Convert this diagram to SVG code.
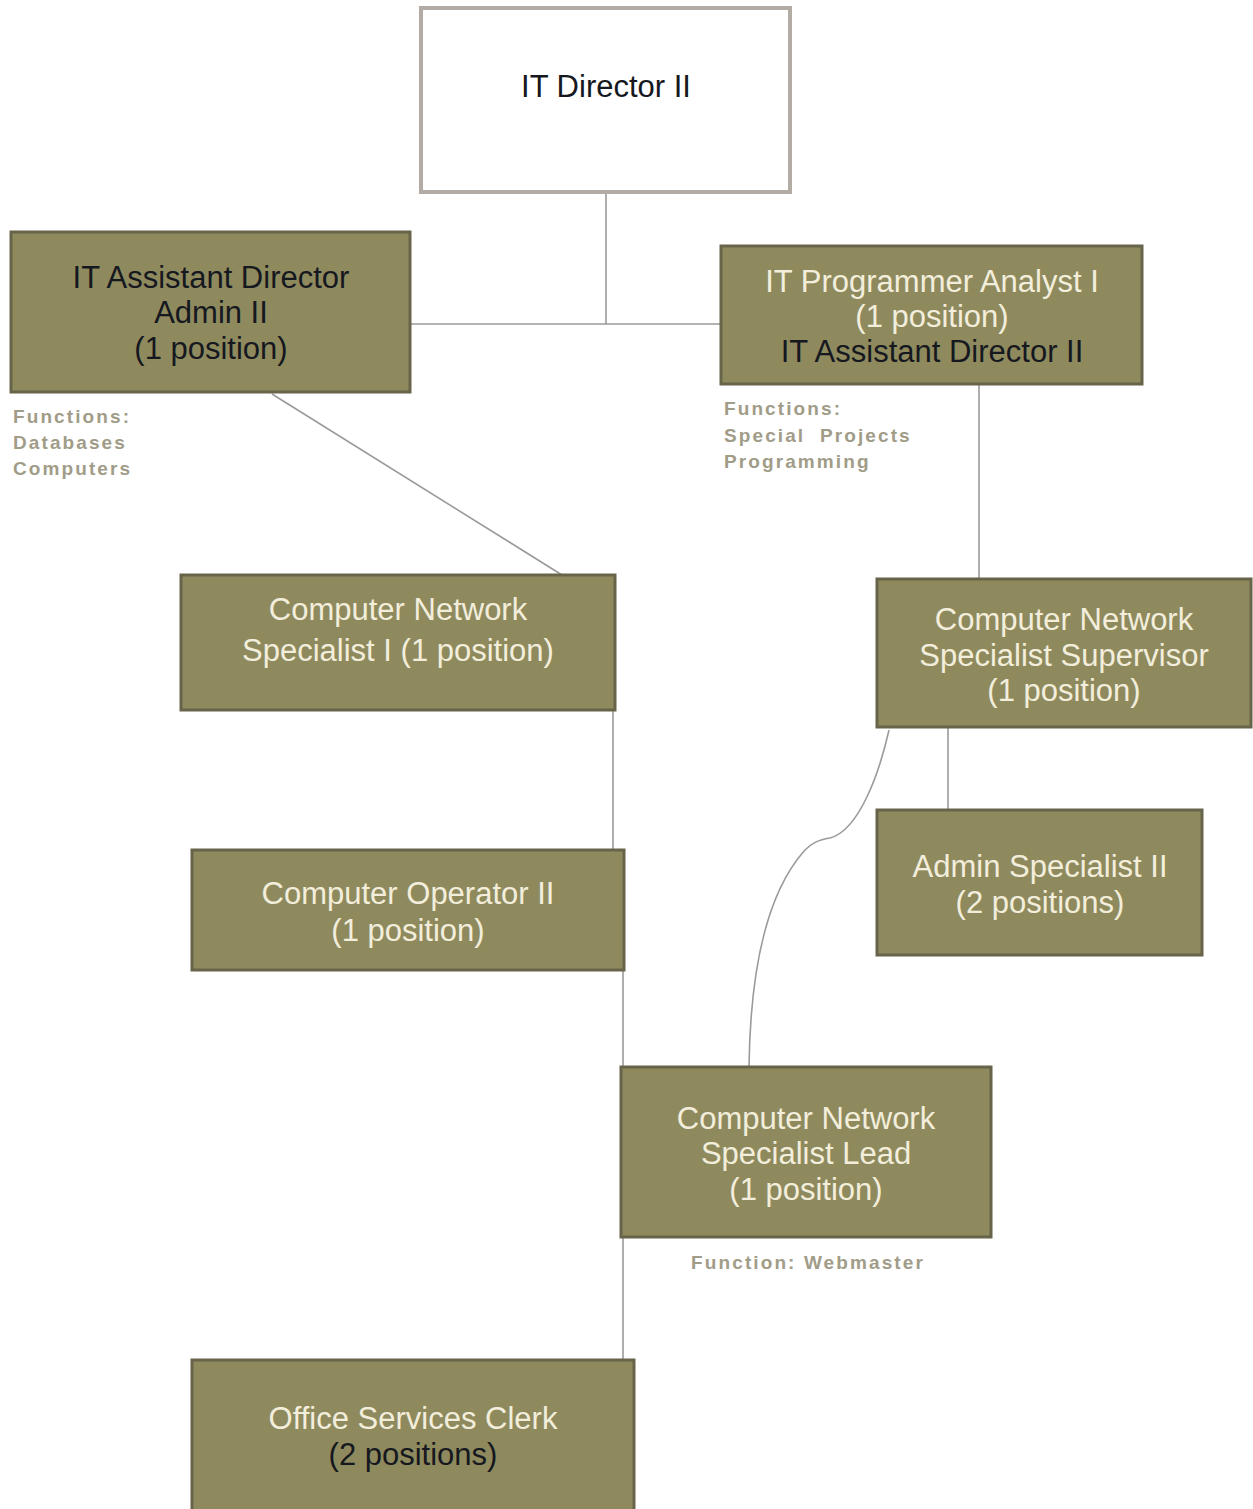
<svg xmlns="http://www.w3.org/2000/svg" width="1253" height="1509" viewBox="0 0 1253 1509">
  <style>
    .box { fill: #8e8a5e; stroke: #67644a; stroke-width: 3; }
    .top { fill: #ffffff; stroke: #b3aca4; stroke-width: 4; }
    .t { font-family: "Liberation Sans", Arial, sans-serif; font-size: 31px; text-anchor: middle; }
    .lt { fill: #f3eedb; }
    .dk { fill: #161820; }
    .fn { font-family: "Liberation Sans", Arial, sans-serif; font-size: 19px; font-weight: bold; fill: #a19c88; letter-spacing: 2.1px; }
    .ln { fill: none; stroke: #9a9a9a; stroke-width: 1.6; }
  </style>

  <!-- connectors -->
  <g id="connectors">
    <line class="ln" x1="606" y1="165" x2="606" y2="324"/>
    <line class="ln" x1="410" y1="324" x2="721" y2="324"/>
    <line class="ln" x1="272" y1="394" x2="562" y2="575"/>
    <line class="ln" x1="979" y1="384" x2="979" y2="579"/>
    <line class="ln" x1="613" y1="710" x2="613" y2="850"/>
    <line class="ln" x1="948" y1="727" x2="948" y2="810"/>
    <path class="ln" d="M889,730 C880,770 860,830 830,838 C818,840 812,843 805,850 C760,900 750,990 749,1067"/>
    <line class="ln" x1="623" y1="970" x2="623" y2="1067"/>
    <line class="ln" x1="623" y1="1237" x2="623" y2="1360"/>
  </g>

  <g id="it-director">
    <rect class="top" x="421" y="8" width="369" height="184"/>
    <text class="t dk" x="606" y="97">IT Director II</text>
  </g>

  <g id="asst-director-admin">
    <rect class="box" x="11" y="232" width="399" height="160"/>
    <text class="t dk" x="211" y="288">IT Assistant Director</text>
    <text class="t dk" x="211" y="323">Admin II</text>
    <text class="t dk" x="211" y="359">(1 position)</text>
    <text class="fn" x="13" y="423">Functions:</text>
    <text class="fn" x="13" y="449">Databases</text>
    <text class="fn" x="13" y="475">Computers</text>
  </g>

  <g id="programmer-analyst">
    <rect class="box" x="721" y="246" width="421" height="138"/>
    <text class="t lt" x="932" y="292">IT Programmer Analyst I</text>
    <text class="t lt" x="932" y="327">(1 position)</text>
    <text class="t dk" x="932" y="362">IT Assistant Director II</text>
    <text class="fn" x="724" y="415">Functions:</text>
    <text class="fn" x="724" y="442" xml:space="preserve">Special  Projects</text>
    <text class="fn" x="724" y="468">Programming</text>
  </g>

  <g id="network-specialist-1">
    <rect class="box" x="181" y="575" width="434" height="135"/>
    <text class="t lt" x="398" y="620">Computer Network</text>
    <text class="t lt" x="398" y="661">Specialist I (1 position)</text>
  </g>

  <g id="network-supervisor">
    <rect class="box" x="877" y="579" width="374" height="148"/>
    <text class="t lt" x="1064" y="630">Computer Network</text>
    <text class="t lt" x="1064" y="666">Specialist Supervisor</text>
    <text class="t lt" x="1064" y="701">(1 position)</text>
  </g>

  <g id="admin-specialist">
    <rect class="box" x="877" y="810" width="325" height="145"/>
    <text class="t lt" x="1040" y="877">Admin Specialist II</text>
    <text class="t lt" x="1040" y="913">(2 positions)</text>
  </g>

  <g id="computer-operator">
    <rect class="box" x="192" y="850" width="432" height="120"/>
    <text class="t lt" x="408" y="904">Computer Operator II</text>
    <text class="t lt" x="408" y="941">(1 position)</text>
  </g>

  <g id="network-lead">
    <rect class="box" x="621" y="1067" width="370" height="170"/>
    <text class="t lt" x="806" y="1129">Computer Network</text>
    <text class="t lt" x="806" y="1164">Specialist Lead</text>
    <text class="t lt" x="806" y="1200">(1 position)</text>
    <text class="fn" x="808" y="1269" text-anchor="middle">Function: Webmaster</text>
  </g>

  <g id="office-clerk">
    <rect class="box" x="192" y="1360" width="442" height="152"/>
    <text class="t lt" x="413" y="1429">Office Services Clerk</text>
    <text class="t dk" x="413" y="1465">(2 positions)</text>
  </g>
</svg>
